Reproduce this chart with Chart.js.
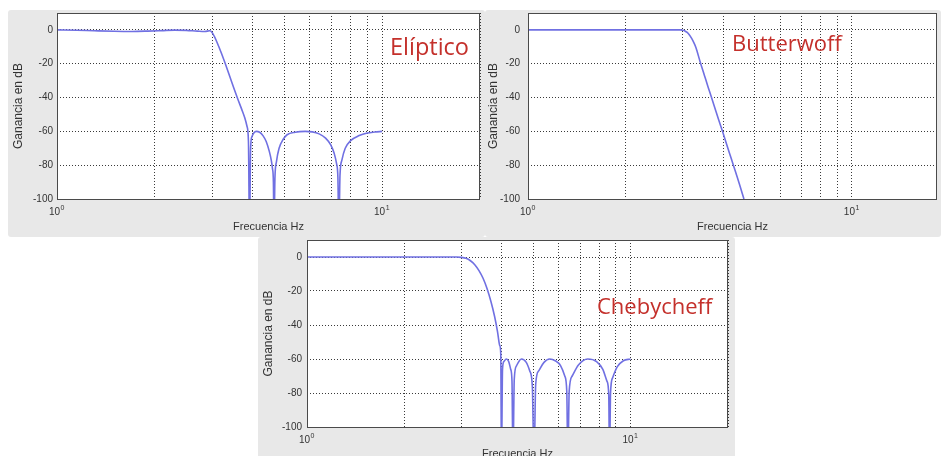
<!DOCTYPE html>
<html>
<head>
<meta charset="utf-8">
<script src="https://cdn.jsdelivr.net/npm/chart.js@4.4.1/dist/chart.umd.min.js"></script>
<style>
  html, body { margin: 0; padding: 0; background: #fff; width: 941px; height: 456px; overflow: hidden; }
  canvas { position: absolute; background: #e8e8e8; border-radius: 3px; }
  #cElip { left: 8px; top: 10px; }
  #cButter { left: 485px; top: 10px; }
  #cCheby { left: 258px; top: 237px; }
</style>
</head>
<body>
<canvas id="cElip" width="477" height="227"></canvas>
<canvas id="cButter" width="456" height="227"></canvas>
<canvas id="cCheby" width="477" height="227"></canvas>
<script>
// respuesta en frecuencia (Hz, dB) de cada filtro
const freqEliptico = [1, 1.15, 1.3, 1.5, 1.7, 1.9, 2.1, 2.3, 2.5, 2.7, 2.85, 2.95, 3.0, 3.05, 3.1,
  3.2, 3.3, 3.4, 3.5, 3.6, 3.7, 3.78, 3.84, 3.88, 3.91, 3.94, 3.98, 4.03, 4.1, 4.2,
  4.3, 4.4, 4.5, 4.56, 4.6, 4.63, 4.65, 4.68, 4.73, 4.82, 4.97, 5.1, 5.4, 5.8, 6.1,
  6.4, 6.7, 6.95, 7.12, 7.24, 7.31, 7.36, 7.42, 7.52, 7.7, 8.0, 8.5, 9.0, 9.5, 10];
const gainEliptico = [0, -0.2, -0.5, -0.8, -0.9, -0.7, -0.4, -0.1, -0.3, -0.7, -0.9, -0.5, -1.5, -4, -7,
  -13.5, -20.5, -27.5, -34.5, -41, -47, -52, -57, -66, -120, -70, -63, -61, -60, -60.5,
  -62.5, -66, -72, -77, -82, -90, -120, -88, -78, -70, -64.5, -62, -60.5, -60, -60.3,
  -61.5, -64, -68, -73, -79, -87, -120, -86, -77, -70, -65.5, -62.5, -61, -60.4, -60];

const freqButter = [1, 2, 2.95, 3.0, 3.05, 3.1, 3.15, 3.2, 3.25, 3.3, 3.4, 3.5, 3.6, 3.7, 3.8,
  3.9, 4.0, 4.1, 4.2, 4.3, 4.4, 4.5, 4.64];
const gainButter = [0, 0, 0, -0.2, -0.6, -1.5, -3, -5, -7.5, -10.5, -19, -26.6, -34, -41, -48,
  -54.6, -61, -67.5, -73.7, -79.7, -85.7, -91.6, -100];

const freqCheby = [1, 2, 2.9, 3.0, 3.1, 3.2, 3.3, 3.4, 3.5, 3.6, 3.7, 3.8, 3.88, 3.94, 3.97,
  3.99, 4.02, 4.06, 4.13, 4.2, 4.26, 4.3, 4.33, 4.37, 4.44, 4.6, 4.76, 4.88, 4.97, 5.03,
  5.09, 5.2, 5.4, 5.62, 5.85, 6.08, 6.26, 6.35, 6.4, 6.46, 6.6, 6.9, 7.37, 7.85, 8.2,
  8.45, 8.56, 8.61, 8.67, 8.8, 9.1, 9.5, 10];
const gainCheby = [0, 0, 0, -0.2, -0.8, -2.2, -4.5, -8, -12.5, -18.5, -26, -35, -44, -52, -57,
  -120, -66, -61.5, -60, -61.5, -66, -73, -120, -72, -64, -60, -62, -67, -76, -120,
  -75, -67, -62, -60, -61, -64, -70, -79, -120, -79, -70, -63.5, -60, -61.5, -66,
  -73, -81, -120, -80, -71, -64.5, -61, -60];

// ticks / rejilla
const xGridTicks = [1, 2, 3, 4, 5, 6, 7, 8, 9, 10, 20];
const xDecadeTicks = [1, 10];
const xDecadeExp = ['0', '1'];
const yTicks = [-100, -80, -60, -40, -20, 0];

const FONT = '"Liberation Sans", Arial, sans-serif';
const LINE = '#7070e2';
const GRID = '#3a3a3a';

const panelPlugin = {
  id: 'panel',
  beforeDraw(chart) {
    const a = chart.chartArea, ctx = chart.ctx;
    ctx.save();
    ctx.fillStyle = '#ffffff';
    ctx.fillRect(a.left, a.top, a.right - a.left, a.bottom - a.top);
    ctx.restore();
  },
  afterDraw(chart, args, opts) {
    const a = chart.chartArea, ctx = chart.ctx;
    ctx.save();
    // marco de los ejes
    ctx.strokeStyle = '#4a4a4a';
    ctx.lineWidth = 1;
    ctx.strokeRect(a.left + 0.5, a.top + 0.5, a.right - a.left - 1, a.bottom - a.top);
    // etiquetas 10^n del eje x
    const sx = chart.scales.x;
    ctx.fillStyle = '#333';
    ctx.textBaseline = 'middle';
    xDecadeTicks.forEach((v, i) => {
      const px = sx.getPixelForValue(v);
      const y = a.bottom + 13;
      ctx.font = '10px ' + FONT;
      ctx.textAlign = 'right';
      ctx.fillText('10', px + 3, y);
      ctx.font = '7px ' + FONT;
      ctx.textAlign = 'left';
      ctx.fillText(xDecadeExp[i], px + 3.5, y - 4);
    });
    // nombre del filtro
    ctx.fillStyle = '#c4302b';
    ctx.font = opts.size + 'px "Open Sans", "Noto Sans", sans-serif';
    ctx.textAlign = 'left';
    ctx.fillText(opts.text, opts.x, opts.y);
    ctx.restore();
  }
};

function makeChart(id, freq, gain, cfg) {
  const points = freq.map((f, i) => ({ x: f, y: gain[i] }));
  return new Chart(id, {
    type: 'line',
    data: {
      datasets: [{
        data: points,
        borderColor: LINE,
        borderWidth: 1.6,
        pointRadius: 0,
        fill: false,
        cubicInterpolationMode: 'monotone'
      }]
    },
    options: {
      responsive: false,
      animation: false,
      events: [],
      layout: { padding: { top: 3, right: cfg.padRight, bottom: 0, left: 0 } },
      plugins: {
        legend: { display: false },
        tooltip: { enabled: false },
        panel: cfg.label
      },
      scales: {
        x: {
          type: 'logarithmic',
          min: 1,
          max: cfg.xMax,
          afterBuildTicks: scale => { scale.ticks = xGridTicks.map(v => ({ value: v })); },
          afterFit: scale => { scale.height = cfg.xHeight; scale.paddingLeft = 0; scale.paddingRight = 0; },
          ticks: { display: false },
          grid: { color: GRID, lineWidth: 1, drawTicks: false },
          border: { display: false, dash: [1, 2] },
          title: {
            display: true,
            text: 'Frecuencia Hz',
            color: '#333',
            font: { family: FONT, size: 11 },
            padding: { top: 0, bottom: 3 }
          }
        },
        y: {
          min: -100,
          max: 10,
          afterBuildTicks: scale => { scale.ticks = yTicks.map(v => ({ value: v })); },
          afterFit: scale => { scale.width = cfg.yWidth; scale.paddingTop = 0; scale.paddingBottom = 0; },
          ticks: { color: '#333', font: { family: FONT, size: 10 }, padding: cfg.tickPad },
          grid: { color: GRID, lineWidth: 1, drawTicks: false },
          border: { display: false, dash: [1, 2] },
          title: {
            display: true,
            text: 'Ganancia en dB',
            color: '#333',
            font: { family: FONT, size: 12 },
            padding: { top: cfg.yTitlePad, bottom: 0 }
          }
        }
      }
    },
    plugins: [panelPlugin]
  });
}

makeChart('cElip', freqEliptico, gainEliptico, {
  padRight: 5, xMax: 20, xHeight: 38, yWidth: 49, tickPad: 4, yTitlePad: 3,
  label: { text: 'Elíptico', x: 382, y: 38, size: 23.5 }
});
makeChart('cButter', freqButter, gainButter, {
  padRight: 4, xMax: 18.3, xHeight: 38, yWidth: 43, tickPad: 8, yTitlePad: 1,
  label: { text: 'Butterwoff', x: 247, y: 35, size: 22 }
});
makeChart('cCheby', freqCheby, gainCheby, {
  padRight: 7, xMax: 20, xHeight: 37, yWidth: 49, tickPad: 5, yTitlePad: 3,
  label: { text: 'Chebycheff', x: 339, y: 71, size: 22 }
});
</script>
</body>
</html>
